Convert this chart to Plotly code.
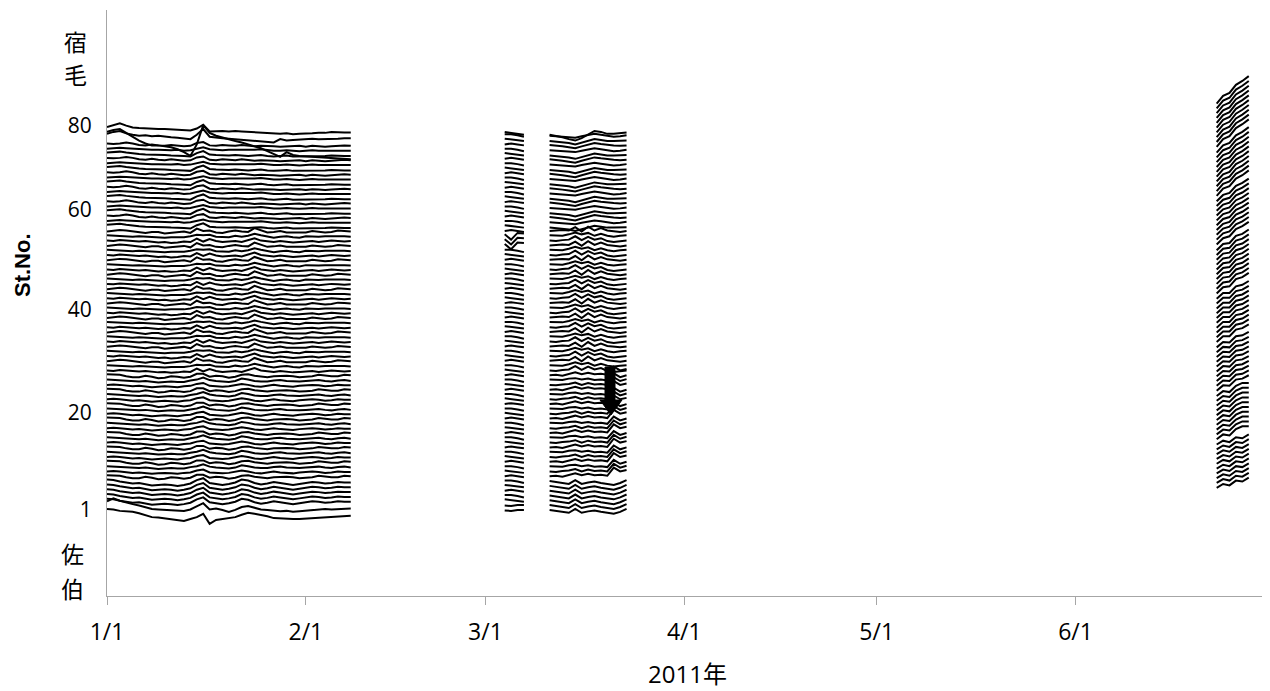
import pandas as pd
import plotly.graph_objects as go

# ---------------- data ----------------
stations = list(range(1, 81))

seg_starts = ["2011-01-01", "2011-03-04", "2011-03-11", "2011-06-23"]
seg_ends = ["2011-02-08", "2011-03-07", "2011-03-23", "2011-06-28"]

# segment 1 (Jan 1 - Feb 8), anomalies in station units
s1_st80 = [0.6, 1.0, 1.4, 0.9, 0.5, 0.4, 0.3, 0.3, 0.2, 0.2, 0.1, 0.0, 0.0, -0.1, 0.3, 1.1, -0.3, -0.2, -0.2, -0.3,
           -0.2, -0.3, -0.4, -0.5, -0.6, -0.7, -0.7, -0.8, -0.7, -0.9, -0.8, -0.8, -0.7, -0.6, -0.6, -0.4, -0.5, -0.5, -0.5]
s1_st79 = [0.2, 0.6, 0.8, 0.3, 0.0, -0.2, -0.1, -0.3, -0.2, -0.4, -0.5, -0.6, -0.7, -0.9, 0.0, 1.2, -0.4, -0.6, -0.7, -0.8,
           -0.9, -1.0, -1.1, -1.2, -1.4, -1.5, -1.6, -0.9, -1.2, -1.1, -1.0, -0.9, -0.8, -0.9, -0.9, -0.8, -0.8, -0.7, -0.7]
s1_st78 = [1.6, 2.0, 2.2, 1.4, 0.6, -0.2, -0.8, -1.2, -1.2, -1.4, -1.6, -2.0, -2.6, -3.4, -1.0, 3.0, 1.4, 0.8, 0.4, 0.0,
           -0.3, -0.6, -1.0, -1.4, -1.8, -2.4, -3.0, -3.6, -2.6, -3.2, -3.4, -3.5, -3.6, -3.7, -3.8, -3.9, -4.0, -4.1, -4.1]
s1_upper_a = [0.3, 0.4, 0.5, 0.3, 0.1, 0.0, -0.1, -0.1, -0.2, -0.2, -0.3, -0.3, -0.4, -0.5, 0.2, 0.6, -0.1, -0.2, -0.3, -0.3,
              -0.2, -0.3, -0.4, -0.3, -0.2, -0.4, -0.5, -0.4, -0.3, -0.5, -0.5, -0.4, -0.4, -0.5, -0.4, -0.3, -0.4, -0.4, -0.4]
s1_upper_b = [0.1, 0.2, 0.3, 0.2, 0.1, 0.1, 0.0, -0.1, -0.1, -0.2, -0.2, -0.1, -0.3, -0.2, 0.1, 0.4, 0.0, -0.1, -0.2, -0.1,
              -0.1, -0.2, -0.2, -0.1, 0.0, -0.2, -0.3, -0.3, -0.2, -0.3, -0.4, -0.3, -0.2, -0.3, -0.3, -0.2, -0.2, -0.3, -0.3]
s1_upper_c = [0.2, 0.1, 0.2, 0.4, 0.2, -0.1, -0.2, 0.0, -0.2, -0.3, -0.1, -0.2, -0.4, -0.3, 0.3, 0.5, -0.2, -0.3, -0.1, -0.2,
              -0.3, -0.1, -0.3, -0.4, -0.3, -0.3, -0.4, -0.5, -0.4, -0.4, -0.3, -0.5, -0.3, -0.4, -0.5, -0.4, -0.3, -0.2, -0.3]
s1_mid_a = [0.0, -0.1, 0.1, 0.0, -0.1, -0.2, -0.1, -0.3, -0.4, -0.3, -0.5, -0.4, -0.2, -0.3, 0.4, -0.2, 0.3, -0.1, -0.3, -0.2,
            -0.1, -0.3, 0.1, 0.5, 0.0, -0.2, -0.3, -0.1, -0.2, -0.4, -0.3, -0.2, -0.1, -0.3, -0.2, 0.0, -0.1, -0.2, -0.1]
s1_mid_b = [0.1, 0.0, 0.0, -0.1, -0.2, -0.1, -0.2, -0.2, -0.3, -0.4, -0.3, -0.3, -0.3, -0.1, 0.2, 0.1, 0.2, -0.2, -0.2, -0.3,
            0.0, -0.2, 0.0, 0.4, 0.1, -0.1, -0.4, -0.2, -0.1, -0.3, -0.4, -0.1, -0.2, -0.2, -0.1, -0.1, 0.0, -0.1, -0.2]
s1_mid_c = [-0.1, 0.1, 0.2, 0.1, -0.1, -0.3, -0.4, -0.2, -0.2, -0.5, -0.4, -0.2, -0.1, -0.4, 0.5, 0.0, 0.1, -0.3, -0.4, -0.1,
            0.1, -0.1, -0.2, 0.6, 0.2, -0.3, -0.2, 0.0, -0.3, -0.3, -0.2, -0.3, 0.0, -0.1, -0.3, -0.2, 0.1, 0.0, -0.1]
s1_low_a = [0.0, 0.1, 0.0, -0.2, -0.3, -0.2, -0.3, -0.5, -0.4, -0.3, -0.4, -0.5, -0.3, -0.2, 0.2, 0.4, -0.2, -0.3, -0.4, -0.3,
            -0.1, 0.2, 0.0, -0.3, -0.4, -0.2, 0.0, -0.2, -0.3, -0.4, -0.2, -0.1, 0.0, -0.1, -0.3, -0.2, 0.0, -0.1, -0.1]
s1_low_b = [0.1, 0.0, -0.1, -0.1, -0.2, -0.3, -0.2, -0.4, -0.5, -0.4, -0.3, -0.4, -0.4, -0.1, 0.1, 0.5, 0.0, -0.2, -0.3, -0.4,
            -0.2, 0.3, 0.1, -0.2, -0.3, -0.3, -0.1, 0.0, -0.2, -0.3, -0.3, -0.2, -0.1, 0.0, -0.2, -0.3, -0.1, 0.0, -0.2]
s1_low_c = [0.2, 0.1, 0.1, -0.2, -0.4, -0.4, -0.1, -0.3, -0.6, -0.5, -0.2, -0.3, -0.5, -0.3, 0.3, 0.3, -0.3, -0.1, -0.2, -0.5,
            -0.3, 0.1, 0.2, -0.1, -0.2, -0.4, -0.2, -0.1, -0.1, -0.2, -0.4, -0.3, -0.2, 0.1, -0.1, -0.2, -0.2, 0.1, 0.0]
s1_bot = [0.3, 0.2, -0.1, -0.3, -0.5, -0.4, -0.6, -0.9, -0.8, -0.7, -0.8, -1.0, -0.8, -0.5, 0.2, 0.6, -0.4, -0.6, -0.8, -0.6,
          -0.3, 0.3, 0.1, -0.4, -0.7, -0.5, -0.2, -0.4, -0.6, -0.8, -0.6, -0.4, -0.2, -0.3, -0.5, -0.4, -0.2, -0.3, -0.3]
s1_st2 = [0.8, 1.4, 0.9, 0.5, 0.2, -0.1, -0.4, -0.8, -0.9, -1.0, -1.1, -1.2, -1.2, -0.9, -0.2, 0.4, -0.9, -0.7, -1.0, -1.4,
          -1.0, -0.4, -0.2, -0.6, -0.9, -1.0, -1.2, -1.3, -1.2, -1.4, -1.3, -1.2, -1.1, -1.0, -0.8, -0.9, -0.8, -0.7, -0.7]
s1_st1 = [0.2, 0.1, -0.2, -0.3, -0.4, -0.7, -1.1, -1.5, -1.6, -1.8, -2.0, -2.2, -2.3, -1.9, -1.5, -0.8, -2.9, -2.1, -1.9, -1.7,
          -1.5, -1.0, -0.6, -0.8, -1.0, -1.3, -1.7, -1.8, -1.9, -1.9, -1.9, -1.8, -1.7, -1.6, -1.5, -1.5, -1.4, -1.3, -1.2]

# segment 2 (Mar 4 - Mar 7)
s2_top = [-0.4, -0.6, -0.8, -1.0]
s2_a = [0.2, 0.0, -0.2, -0.3]
s2_b = [0.1, 0.1, -0.1, -0.4]
s2_c = [0.0, 0.2, 0.0, -0.2]
s2_kink = [0.3, -0.8, 0.6, 0.5]
s2_bot = [-0.1, -0.2, 0.0, 0.0]

# segment 3 (Mar 11 - Mar 23)
s3_top = [-1.0, -1.2, -1.5, -1.9, -2.2, -1.7, -1.0, -0.2, -0.4, -0.8, -0.8, -0.6, -0.5]
s3_upper_a = [-0.3, -0.4, -0.5, -0.7, -1.0, -0.6, -0.2, 0.1, -0.1, -0.3, -0.3, -0.2, -0.2]
s3_upper_b = [-0.2, -0.3, -0.3, -0.5, -0.6, -0.3, 0.0, 0.2, 0.0, -0.2, -0.4, -0.3, -0.1]
s3_upper_c = [-0.1, -0.2, -0.4, -0.6, -0.8, -0.4, -0.1, 0.3, 0.1, -0.1, -0.2, -0.3, -0.2]
s3_mid_a = [0.0, -0.1, 0.1, 0.2, 0.9, 0.1, 0.8, 0.2, 0.5, -0.1, -0.3, -0.1, 0.0]
s3_mid_b = [0.1, 0.0, 0.0, 0.3, 0.7, 0.3, 0.6, 0.0, 0.4, 0.0, -0.2, 0.0, 0.1]
s3_mid_c = [0.0, 0.1, 0.2, 0.1, 0.8, -0.1, 0.9, 0.1, 0.6, 0.1, -0.1, -0.2, 0.0]
s3_low_a = [0.0, -0.1, 0.1, 0.2, 0.5, 0.0, 0.4, 0.1, 0.2, 0.0, 1.6, 0.8, 1.2]
s3_low_b = [0.1, 0.0, 0.0, 0.3, 0.4, 0.1, 0.3, 0.0, 0.1, -0.1, 1.4, 0.6, 1.0]
s3_low_c = [0.0, 0.1, -0.1, 0.2, 0.6, 0.2, 0.5, 0.2, 0.3, 0.1, 1.8, 1.0, 1.3]
s3_bot = [0.0, -0.2, -0.4, -0.6, 0.2, -0.6, -0.3, -0.1, -0.4, -0.6, -0.8, -0.4, 0.2]

# segment 4 (Jun 23 - Jun 28), one row per band of ten stations
s4_band1 = [4.6, 5.4, 5.1, 6.1, 5.9, 6.7]
s4_band2 = [4.7, 5.7, 5.5, 6.8, 7.4, 7.4]
s4_band3 = [4.8, 5.9, 5.8, 7.1, 7.3, 8.0]
s4_band4 = [4.9, 6.1, 6.1, 7.5, 7.8, 8.6]
s4_band5 = [5.0, 6.3, 6.5, 8.0, 8.4, 9.3]
s4_band6 = [5.2, 6.5, 6.9, 8.4, 9.0, 9.9]
s4_band7 = [5.3, 6.8, 7.3, 8.9, 9.6, 10.6]
s4_band8 = [5.5, 7.1, 7.7, 9.4, 10.2, 11.2]

x_tick_dates = ["2011-01-01", "2011-02-01", "2011-03-01", "2011-04-01", "2011-05-01", "2011-06-01", "2011-07-01"]
x_tick_text = ["1/1", "2/1", "3/1", "4/1", "5/1", "6/1", ""]
y_tick_pos = [1, 21.2, 42.6, 63.4, 81.0]
y_tick_text = ["1", "20", "40", "60", "80"]


# ---------------- pattern selection ----------------
def by3(s, a, b, c):
    return (a, b, c)[s % 3]


def seg1_pattern(s):
    if s == 80:
        return s1_st80
    if s == 79:
        return s1_st79
    if s == 78:
        return s1_st78
    if s >= 60:
        return by3(s, s1_upper_a, s1_upper_b, s1_upper_c)
    if s >= 30:
        return by3(s, s1_mid_a, s1_mid_b, s1_mid_c)
    if s >= 8:
        return by3(s, s1_low_a, s1_low_b, s1_low_c)
    if s >= 3:
        return s1_bot
    if s == 2:
        return s1_st2
    return s1_st1


def seg2_pattern(s):
    if s == 80:
        return s2_top
    if 56 <= s <= 58:
        return s2_kink
    if s <= 2:
        return s2_bot
    return by3(s, s2_a, s2_b, s2_c)


def seg3_pattern(s):
    if s == 80:
        return s3_top
    if s >= 60:
        return by3(s, s3_upper_a, s3_upper_b, s3_upper_c)
    if s >= 30:
        return by3(s, s3_mid_a, s3_mid_b, s3_mid_c)
    if s >= 8:
        return by3(s, s3_low_a, s3_low_b, s3_low_c)
    return s3_bot


s4_bands = [s4_band1, s4_band2, s4_band3, s4_band4, s4_band5, s4_band6, s4_band7, s4_band8]


def seg4_pattern(s):
    return s4_bands[min((s - 1) // 10, 7)]


seg_dates = [list(pd.date_range(a, b, freq="D")) for a, b in zip(seg_starts, seg_ends)]
pickers = [seg1_pattern, seg2_pattern, seg3_pattern, seg4_pattern]

fig = go.Figure()
for s in stations:
    xs, ys = [], []
    for dates, pick in zip(seg_dates, pickers):
        pat = pick(s)
        xs += dates + [None]
        ys += [s + v for v in pat] + [None]
    fig.add_trace(go.Scatter(x=xs, y=ys, mode="lines", name=f"St.{s}",
                             line=dict(color="black", width=2), connectgaps=False,
                             showlegend=False))

# ---------------- layout ----------------
# the page body has an 8px margin, so the figure is drawn 8px right and down
BODY = 8
W, H = 1270 - BODY, 691 - BODY
L, R, T, B = 107, 1268, 10, 596          # plot area in screenshot pixels
PW, PH = R - L, B - T


def px(xp):
    return (xp - L) / PW


def py(yp):
    return (B - yp) / PH


axis_grey = "#A6A6A6"
fig.update_layout(
    width=W, height=H,
    margin=dict(l=L - BODY, r=W - (R - BODY), t=T - BODY, b=H - (B - BODY), autoexpand=False),
    paper_bgcolor="white", plot_bgcolor="white",
    font=dict(family="Open Sans, Noto Sans CJK JP", color="black"),
    showlegend=False,
    xaxis=dict(type="date", range=["2011-01-01", "2011-07-01"],
               tickvals=x_tick_dates, ticktext=x_tick_text,
               tickfont=dict(size=23),
               showline=True, linecolor=axis_grey, linewidth=1,
               ticks="outside", ticklen=8, tickcolor=axis_grey,
               ticklabelstandoff=7,
               showgrid=False, zeroline=False,
               title=dict(text="2011年", font=dict(size=24, family="Open Sans, Noto Sans CJK JP"),
                          standoff=20)),
    yaxis=dict(range=[-16.9, 104.95], tickvals=y_tick_pos, ticktext=y_tick_text,
               tickfont=dict(size=21),
               showline=True, linecolor=axis_grey, linewidth=1,
               ticks="outside", ticklen=10, tickcolor="rgba(0,0,0,0)",
               showgrid=False, zeroline=False),
)

# arrow shape
arrow_path = (f"M {px(605)},{py(367)} L {px(615)},{py(367)} L {px(615)},{py(400)} "
              f"L {px(622)},{py(400)} L {px(611)},{py(415)} L {px(600)},{py(400)} "
              f"L {px(605)},{py(400)} Z")
fig.add_shape(type="path", path=arrow_path, xref="paper", yref="paper",
              fillcolor="black", line=dict(color="black", width=1))

cjk = "Noto Sans CJK JP"
for ch, xp, yp in [("宿", 75, 41), ("毛", 75, 74), ("佐", 72, 553), ("伯", 72, 588)]:
    fig.add_annotation(text=ch, x=px(xp), y=py(yp), xref="paper", yref="paper",
                       showarrow=False, xanchor="center", yanchor="middle",
                       font=dict(family=cjk, size=23, color="black"))

fig.add_annotation(text="<b>St.No.</b>", x=px(22), y=py(265), xref="paper", yref="paper",
                   showarrow=False, textangle=-90, xanchor="center", yanchor="middle",
                   font=dict(family="Liberation Sans, Arial", size=22, color="black"))

fig.write_html("out.html")
